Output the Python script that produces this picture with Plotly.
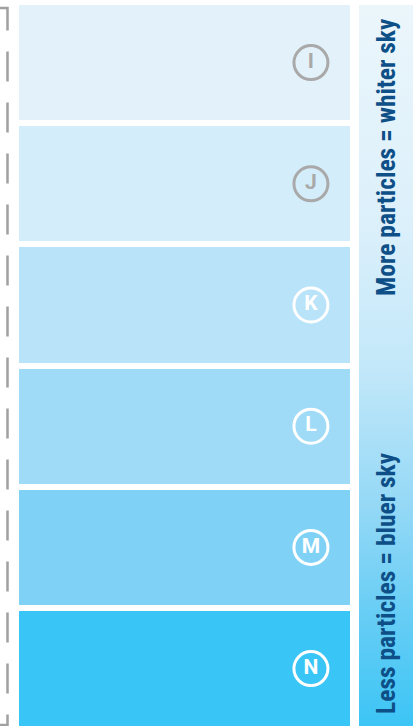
import plotly.graph_objects as go

# ---- data ----
categories = ["I", "J", "K", "L", "M", "N"]
swatch_colors = ["#e3f2fa", "#d4edfa", "#b9e3f9", "#9fdaf6", "#80d1f6", "#39c5f5"]
label_colors = ["#a9a9a9", "#a9a9a9", "#ffffff", "#ffffff", "#ffffff", "#ffffff"]
scale_top_text = "More particles = whiter sky"
scale_bottom_text = "Less particles = bluer sky"
gradient_colorscale = [
    [0.0, "#3cc5f5"],
    [0.15, "#66cdf5"],
    [0.3, "#93d8f6"],
    [0.5, "#c3e8f9"],
    [0.7, "#dcf0fb"],
    [1.0, "#ebf6fb"],
]

W, H = 413, 726
rows = list(range(len(categories)))

fig = go.Figure()

# colour swatches as horizontal bars
fig.add_trace(go.Bar(
    y=rows, x=[1] * len(rows), orientation="h", width=0.95,
    marker=dict(color=swatch_colors, line=dict(width=0)),
    hoverinfo="skip", xaxis="x", yaxis="y",
))

# circled letters
fig.add_trace(go.Scatter(
    y=rows, x=[0.882] * len(rows), mode="markers+text",
    text=[f"<b>{c}</b>" for c in categories], textposition="middle center",
    textfont=dict(family="Roboto", size=21, color=label_colors),
    marker=dict(symbol="circle-open", size=34, color=label_colors,
                line=dict(width=3, color=label_colors)),
    hoverinfo="skip", xaxis="x", yaxis="y",
))

# gradient scale bar
fig.add_trace(go.Scatter(
    x=[0, 1, 1, 0, 0], y=[0, 0, 1, 1, 0], mode="lines", fill="toself",
    line=dict(width=0),
    fillgradient=dict(type="vertical", colorscale=gradient_colorscale),
    hoverinfo="skip", xaxis="x2", yaxis="y2",
))

pitch = 121.2
plot_h = H - 2
fig.update_layout(
    width=W, height=H,
    margin=dict(l=0, r=0, t=0, b=0),
    paper_bgcolor="white", plot_bgcolor="white",
    showlegend=False,
    bargap=0,
    xaxis=dict(domain=[19 / W, 350 / W], range=[0, 1], visible=False, fixedrange=True),
    yaxis=dict(domain=[0, 1 - 2 / H], range=[-0.5 + plot_h / pitch, -0.5],
               visible=False, fixedrange=True),
    xaxis2=dict(domain=[359 / W, 1], range=[0, 1], visible=False, anchor="y2", fixedrange=True),
    yaxis2=dict(domain=[0, 1 - 5 / H], range=[0, 1], visible=False, anchor="x2", fixedrange=True),
)

text_font = dict(family="Roboto Condensed, Liberation Sans Narrow, DejaVu Sans Condensed, Roboto",
                 size=25.5, color="#0d4f86", weight="bold")
fig.add_annotation(text=scale_top_text, textangle=-90, xref="paper", yref="paper",
                   x=386 / W, y=1 - 157 / H, showarrow=False, font=text_font,
                   xanchor="center", yanchor="middle")
fig.add_annotation(text=scale_bottom_text, textangle=-90, xref="paper", yref="paper",
                   x=386 / W, y=1 - 583 / H, showarrow=False, font=text_font,
                   xanchor="center", yanchor="middle")

# dashed bracket on the left
fig.add_shape(type="path", xref="paper", yref="paper",
              path=f"M 0 {1 - 8 / H} L {7.5 / W} {1 - 8 / H} L {7.5 / W} {1 - 725 / H} L 0 {1 - 725 / H}",
              line=dict(color="#a0a0a0", width=2.5, dash="30px,21px"))

fig.write_html("out.html", config={"displayModeBar": False},
               post_script="document.body.style.margin='0';")
